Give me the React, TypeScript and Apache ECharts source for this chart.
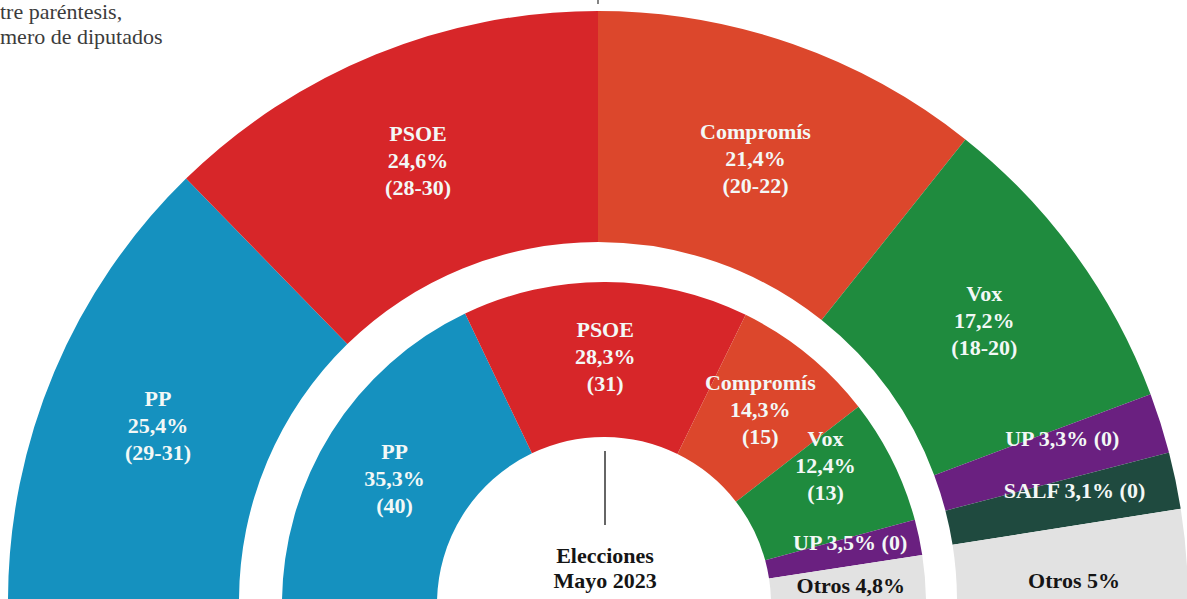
import React, { useEffect, useRef } from "react";
import * as echarts from "echarts";

// Outer ring: survey (estimate), inner ring: May 2023 elections
const surveyParties = ["PP", "PSOE", "Compromís", "Vox", "UP", "SALF", "Otros"];
const surveyPct = [25.4, 24.6, 21.4, 17.2, 3.3, 3.1, 5];
const surveySeats = ["29-31", "28-30", "20-22", "18-20", "0", "0", ""];

const electionParties = ["PP", "PSOE", "Compromís", "Vox", "UP", "Otros"];
const electionPct = [35.3, 28.3, 14.3, 12.4, 3.5, 4.8];
const electionSeats = ["40", "31", "15", "13", "0", ""];

const partyColors: Record<string, string> = {
  PP: "#1591bf",
  PSOE: "#d72629",
  "Compromís": "#dc472c",
  Vox: "#1f8b3e",
  UP: "#6a2080",
  SALF: "#1f4a3f",
  Otros: "#e2e2e2",
};

const centerTitle = "Elecciones\nMayo 2023";
const noteText = "tre paréntesis,\nmero de diputados";

const SERIF = "'Liberation Serif', 'DejaVu Serif', serif";

const fmt = (v: number) => String(v).replace(".", ",");

function labelText(name: string, pct: number, seats: string) {
  if (name === "Otros") return `${name} ${fmt(pct)}%`;
  if (name === "UP" || name === "SALF") return `${name} ${fmt(pct)}% (${seats})`;
  return `${name}\n${fmt(pct)}%\n(${seats})`;
}

function buildData(names: string[], pct: number[], seats: string[]) {
  return names.map((n, i) => ({
    name: n,
    value: pct[i],
    itemStyle: { color: partyColors[n] },
    label: {
      formatter: labelText(n, pct[i], seats[i]),
      color: n === "Otros" ? "#151515" : "#f3f8f6",
      fontFamily: SERIF,
      fontWeight: "bold",
    },
  }));
}

export default function App() {
  const ref = useRef<HTMLDivElement>(null);
  useEffect(() => {
    if (!ref.current) return;
    const chart = echarts.init(ref.current, null, { renderer: "svg" });
    const labelBase = {
      show: true,
      position: "inside" as const,
      fontFamily: SERIF,
      fontWeight: "bold" as const,
      fontSize: 22,
      lineHeight: 27,
      align: "center" as const,
    };
    const outerShift: Record<string, [number, number]> = {
      PP: [0, 10],
      PSOE: [0, 2],
      "Compromís": [0, 8],
      UP: [9, -19],
      SALF: [9, -13],
      Otros: [0, 17],
    };
    const innerShift: Record<string, [number, number]> = {
      PP: [0, 6],
      "Compromís": [0, -3],
      Vox: [0, -28],
      UP: [4, -10],
      Otros: [0, 0],
    };
    chart.setOption({
      animation: false,
      series: [
        {
          type: "pie",
          name: "Encuesta",
          center: [598, 601],
          radius: [359, 590],
          startAngle: 180,
          endAngle: 0,
          clockwise: true,
          silent: true,
          avoidLabelOverlap: false,
          label: labelBase,
          labelLine: { show: false },
          itemStyle: { borderWidth: 0 },
          labelLayout: (p: any) => {
            const s = outerShift[surveyParties[p.dataIndex]] || [0, 0];
            return { dx: s[0], dy: s[1] };
          },
          data: buildData(surveyParties, surveyPct, surveySeats),
        },
        {
          type: "pie",
          name: "Elecciones 2023",
          center: [604, 604],
          radius: [167, 322],
          startAngle: 180,
          endAngle: 0,
          clockwise: true,
          silent: true,
          avoidLabelOverlap: false,
          label: labelBase,
          labelLine: { show: false },
          itemStyle: { borderWidth: 0 },
          labelLayout: (p: any) => {
            const s = innerShift[electionParties[p.dataIndex]] || [0, 0];
            return { dx: s[0], dy: s[1] };
          },
          data: buildData(electionParties, electionPct, electionSeats),
        },
      ],
      graphic: [
        {
          type: "text",
          left: 0,
          top: -1,
          style: {
            text: noteText,
            fontFamily: SERIF,
            fontSize: 22,
            lineHeight: 25,
            fill: "#3c3c3c",
          },
        },
        {
          type: "line",
          shape: { x1: 605, y1: 451, x2: 605, y2: 525 },
          style: { stroke: "#333", lineWidth: 1.5 },
        },
        {
          type: "line",
          shape: { x1: 598, y1: 0, x2: 598, y2: 4 },
          style: { stroke: "#333", lineWidth: 1.2 },
        },
        {
          type: "text",
          x: 605,
          y: 568,
          style: {
            text: centerTitle,
            fontFamily: SERIF,
            fontWeight: "bold",
            fontSize: 22,
            lineHeight: 25,
            fill: "#151515",
            align: "center",
            verticalAlign: "middle",
          },
        },
      ],
    });
    return () => chart.dispose();
  }, []);
  return (
    <div
      ref={ref}
      style={{ position: "fixed", left: 0, top: 0, width: 1187, height: 599, background: "#fff" }}
    />
  );
}
